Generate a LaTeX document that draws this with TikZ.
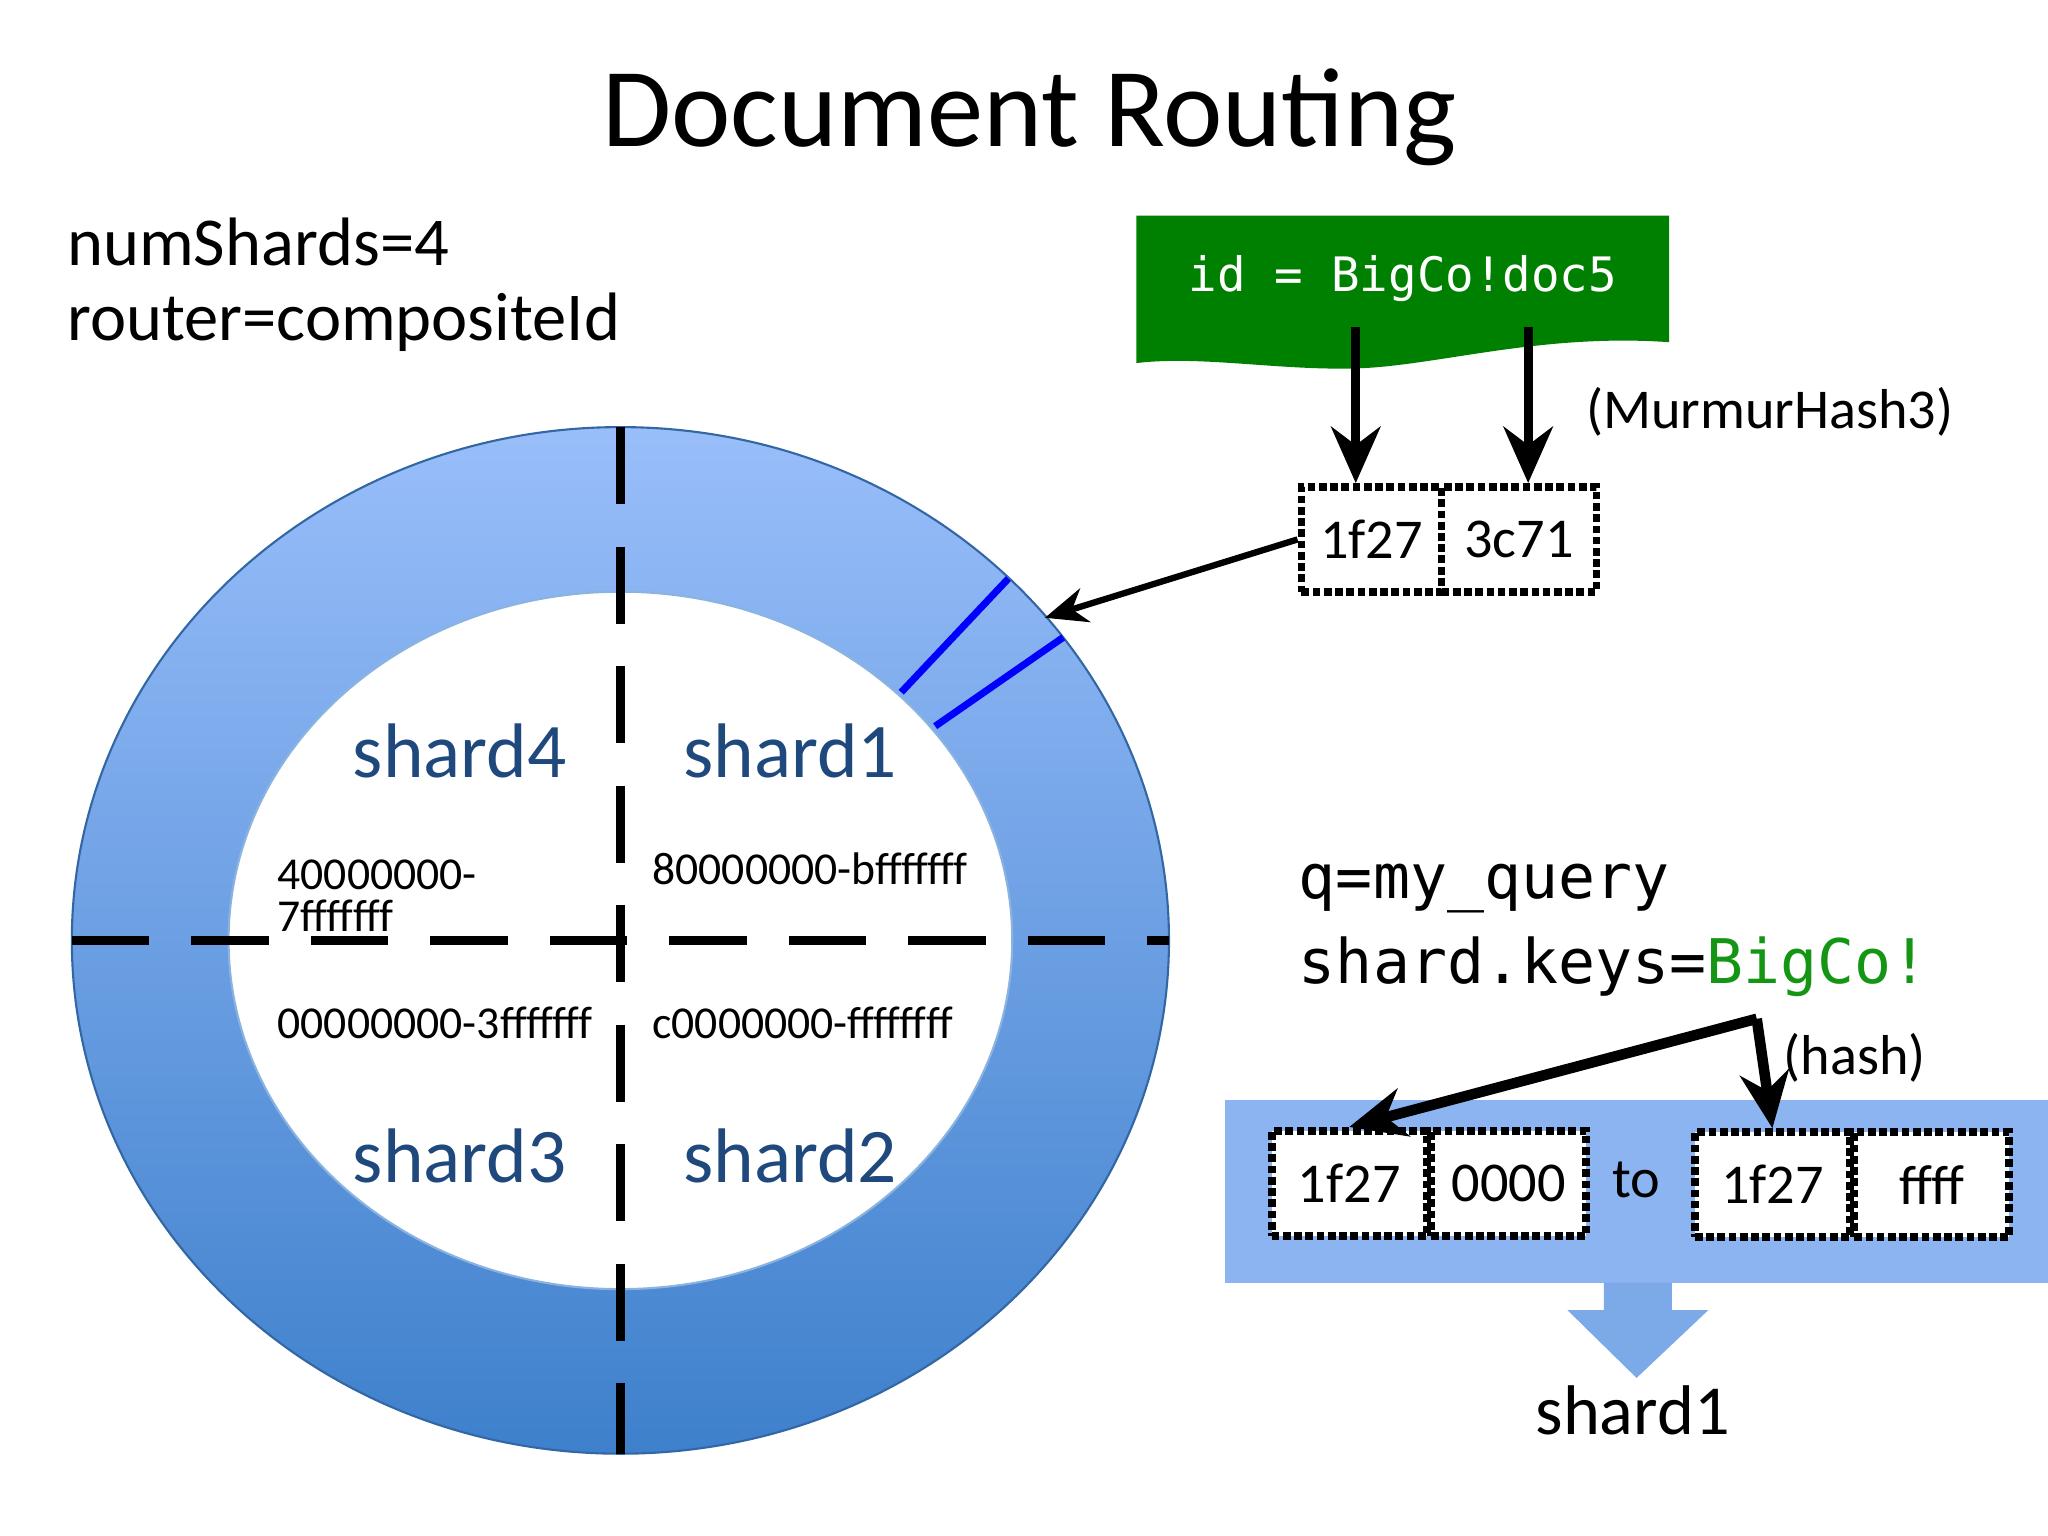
\documentclass[tikz,border=0pt]{standalone}
\usepackage{fontspec}
\setmainfont{Carlito}
\newfontfamily\monofont{DejaVu Sans Mono}
\usetikzlibrary{arrows.meta}
\definecolor{ringtop}{RGB}{153,190,250}
\definecolor{ringbot}{RGB}{62,128,204}
\definecolor{shardblue}{RGB}{31,73,125}
\definecolor{idgreen}{RGB}{0,128,0}
\definecolor{keygreen}{RGB}{20,150,20}
\definecolor{barblue}{RGB}{140,180,240}
\tikzset{
  hashbox/.style={draw, densely dotted, line width=2.2pt, minimum width=1.55cm, minimum height=1.05cm, font=\fontsize{16}{18}\selectfont, inner sep=0pt},
  shardname/.style={text=shardblue, font=\fontsize{22}{24}\selectfont},
  rangetxt/.style={font=\fontsize{13}{14}\selectfont, anchor=west, align=left},
  cut/.style={dash pattern=on 22pt off 12pt, line width=2.4pt},
  bigarrow/.style={-{Stealth[length=16pt,width=14pt]}, line width=2.6pt}
}
\begin{document}
\begin{tikzpicture}[x=0.013061cm,y=-0.013061cm]
\useasboundingbox (0,0) rectangle (1568,1176);
% title and settings
\node[font=\fontsize{32}{34}\selectfont] (title) at (788,90) {Document Routing};
\node[anchor=west, font=\fontsize{19.5}{21}\selectfont] (ns) at (42,185) {numShards=4};
\node[anchor=west, font=\fontsize{19.5}{21}\selectfont] (rt) at (42,247) {router=compositeId};
% hash ring
\shade[top color=ringtop, bottom color=ringbot, even odd rule]
  (475,720) ellipse [x radius=420, y radius=393]
  (475,720) ellipse [x radius=300, y radius=267];
\draw[ringbot!80!black, line width=0.6pt] (475,720) ellipse [x radius=420, y radius=393];
\draw[ringbot!60, line width=0.6pt] (475,720) ellipse [x radius=300, y radius=267];
\draw[cut] (475,327) -- (475,1113);
\draw[cut] (55,720) -- (895,720);
\draw[blue, line width=2pt] (690,530) -- (772,443);
\draw[blue, line width=2pt] (716,556) -- (814,488);
\coordinate (hit) at (800,473);
% shard labels
\node[shardname] (s4) at (352,575) {shard4};
\node[shardname] (s1) at (605,575) {shard1};
\node[shardname] (s3) at (352,885) {shard3};
\node[shardname] (s2) at (605,885) {shard2};
\node[rangetxt] (r4) at (203,686) {40000000-\\[-2pt]7fffffff};
\node[rangetxt] (r1) at (490,665) {80000000-bfffffff};
\node[rangetxt] (r3) at (203,783) {00000000-3fffffff};
\node[rangetxt] (r2) at (490,783) {c0000000-ffffffff};
% document id
\fill[idgreen] (870,165) -- (1278,165) -- (1278,262)
  .. controls (1180,255) and (1100,280) .. (1040,282)
  .. controls (980,284) and (920,272) .. (870,278) -- cycle;
\node[text=white, font=\monofont\fontsize{13.5}{15}\selectfont] (id) at (1074,213) {id = BigCo!doc5};
\node[hashbox, minimum width=1.4cm] (h1) at (1050,413) {1f27};
\node[hashbox] (h2) at (1163,413) {3c71};
\draw[bigarrow] (1038,250) -- (h1.north -| 1038,0);
\draw[bigarrow] (1170,250) -- (h2.north -| 1170,0);
\node[font=\fontsize{16}{18}\selectfont] (mh) at (1355,315) {(MurmurHash3)};
\draw[-{Stealth[length=12pt,width=10pt]}, line width=1.8pt] (h1.west) -- (hit);
% query
\node[anchor=west, font=\monofont\fontsize{17.5}{19}\selectfont] (q) at (985,680) {q=my\_query};
\node[anchor=west, font=\monofont\fontsize{17.5}{19}\selectfont] (sk) at (985,740) {shard.keys=\textcolor{keygreen}{BigCo!}};
\fill[barblue] (938,842) rectangle (1568,982);
\fill[barblue!80!ringbot] (1228,982) -- (1280,982) -- (1280,1003) -- (1308,1003)
  -- (1253,1055) -- (1200,1003) -- (1228,1003) -- cycle;
\node[font=\fontsize{20}{22}\selectfont] (res) at (1250,1080) {shard1};
\node[hashbox, fill=white] (lo1) at (1033,906) {1f27};
\node[hashbox, fill=white] (lo2) at (1155,906) {0000};
\node[font=\fontsize{16}{18}\selectfont] (to) at (1253,903) {to};
\node[hashbox, fill=white] (hi1) at (1357,907) {1f27};
\node[hashbox, fill=white] (hi2) at (1479,907) {ffff};
\coordinate (bend) at (1345,780);
\draw[line width=3pt, -{Stealth[length=16pt,width=14pt]}] (bend) -- (lo1.north);
\draw[line width=3pt, -{Stealth[length=16pt,width=14pt]}] (bend) -- (hi1.north);
\node[font=\fontsize{16}{18}\selectfont] (hs) at (1420,810) {(hash)};
\end{tikzpicture}
\end{document}
